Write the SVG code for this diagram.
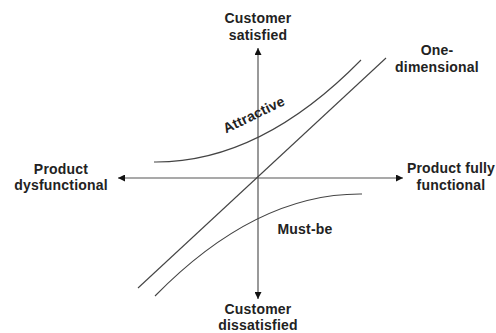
<svg xmlns="http://www.w3.org/2000/svg" width="496" height="333" viewBox="0 0 496 333">
<style>
.lbl{font-family:"Liberation Sans",Arial,sans-serif;font-weight:bold;font-size:14px;fill:#222;text-anchor:middle;letter-spacing:0.2px}
.axis{stroke:#555;stroke-width:1.2;fill:none}
.curve{stroke:#444;stroke-width:1.1;fill:none}
</style>
<defs>
<marker id="ah" viewBox="0 0 10 10" refX="10" refY="5" markerWidth="7" markerHeight="7" markerUnits="userSpaceOnUse" orient="auto-start-reverse">
<path d="M0,0 L10,5 L0,10 Z" fill="#111"/>
</marker>
</defs>
<rect width="496" height="333" fill="#fff"/>
<g id="connectors">
<line class="axis" x1="258" y1="299" x2="258" y2="48" marker-start="url(#ah)" marker-end="url(#ah)"/>
<line class="axis" x1="118" y1="178" x2="403" y2="178" marker-start="url(#ah)" marker-end="url(#ah)"/>
<path id="attractive-curve" class="curve" d="M154,162 Q260,163 361,60"/>
<path id="one-dimensional-line" class="curve" d="M138,288 L386,58"/>
<path id="must-be-curve" class="curve" d="M362,194 Q256,193 155,296"/>
</g>
<g id="customer-satisfied"><text class="lbl" x="258" y="23">Customer</text><text class="lbl" x="258" y="40">satisfied</text></g>
<g id="customer-dissatisfied"><text class="lbl" x="258" y="313.5">Customer</text><text class="lbl" x="258" y="329.5">dissatisfied</text></g>
<g id="product-dysfunctional"><text class="lbl" x="61" y="174">Product</text><text class="lbl" x="61" y="190">dysfunctional</text></g>
<g id="product-fully-functional"><text class="lbl" x="451" y="173">Product fully</text><text class="lbl" x="451" y="190">functional</text></g>
<g id="one-dimensional"><text class="lbl" x="437" y="55">One-</text><text class="lbl" x="437" y="72">dimensional</text></g>
<g id="attractive"><text class="lbl" transform="translate(256,119) rotate(-26)" x="0" y="0">Attractive</text></g>
<g id="must-be"><text class="lbl" x="305" y="234">Must-be</text></g>
</svg>
